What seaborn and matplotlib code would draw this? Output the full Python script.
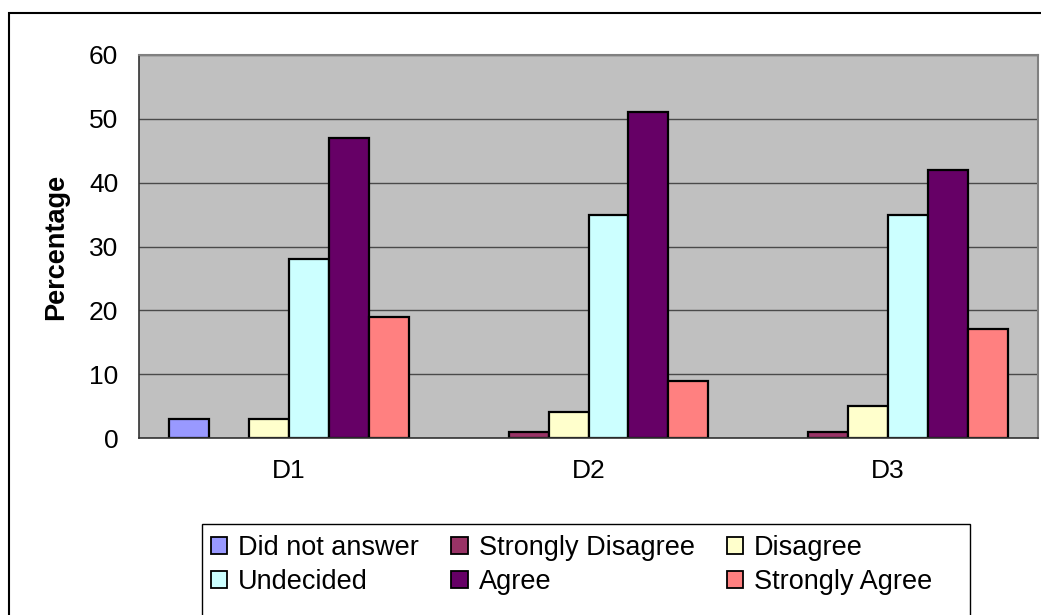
import pandas as pd
import numpy as np
import matplotlib
matplotlib.use("Agg")
import matplotlib.pyplot as plt
import seaborn as sns
from matplotlib.patches import Rectangle

# donnees
questions = ["D1", "D2", "D3"]
reponses = ["Did not answer", "Strongly Disagree", "Disagree",
            "Undecided", "Agree", "Strongly Agree"]
did_not_answer = [3, 0, 0]
strongly_disagree = [0, 1, 1]
disagree = [3, 4, 5]
undecided = [28, 35, 35]
agree = [47, 51, 42]
strongly_agree = [19, 9, 17]

couleurs = ["#9999FF", "#993366", "#FFFFCC", "#CCFFFF", "#660066", "#FF8080"]

# tableau long pour seaborn
series = [did_not_answer, strongly_disagree, disagree,
          undecided, agree, strongly_agree]
rows = []
for rep, vals in zip(reponses, series):
    for q, v in zip(questions, vals):
        rows.append({"question": q, "reponse": rep, "pct": v})
df = pd.DataFrame(rows)

sns.set_style("white")
plt.rcParams['font.family'] = ['Liberation Sans', 'DejaVu Sans']
plt.rcParams['text.color'] = 'black'
plt.rcParams['xtick.color'] = 'black'
plt.rcParams['ytick.color'] = 'black'
plt.rcParams['axes.labelcolor'] = 'black'

fig = plt.figure(figsize=(10.41, 6.15), dpi=100)
ax = fig.add_axes([139/1041, 1-438/615, 899/1041, 383/615])
ax.set_facecolor("#C0C0C0")

sns.barplot(data=df, x="question", y="pct", hue="reponse", hue_order=reponses,
            order=questions, palette=couleurs, edgecolor="black", linewidth=1.6,
            width=0.8, saturation=1, ax=ax, legend=True)

handles, labels = ax.get_legend_handles_labels()
ax.get_legend().remove()

# barres a zero : pas de trait (comme Excel)
for p in ax.patches:
    if p.get_height() == 0:
        p.set_linewidth(0)

ax.set_ylim(0, 60)
ax.set_xlim(-0.5, 2.5)
ax.set_yticks(np.arange(0, 61, 10))
ax.yaxis.grid(True, color="#4a4a4a", linewidth=1)
ax.set_axisbelow(True)

# ticks de categories entre les groupes, labels au centre
ax.set_xticks([0.5, 1.5])
ax.set_xticklabels([])
ax.set_xticks([0, 1, 2], minor=True)
ax.set_xticklabels(questions, minor=True)
ax.tick_params(axis="x", which="major", direction="out", length=9, width=1, color="#333333")
ax.tick_params(axis="x", which="minor", length=0, pad=15, labelsize=19)
ax.tick_params(axis="y", direction="out", length=9, width=1, color="#333333", labelsize=19, pad=6)

ax.set_xlabel("")
ax.set_ylabel("Percentage", fontsize=19.5, fontweight="bold", labelpad=14)

for side in ["top", "right"]:
    ax.spines[side].set_color("#808080")
    ax.spines[side].set_linewidth(1.5)
for side in ["left", "bottom"]:
    ax.spines[side].set_color("#333333")
    ax.spines[side].set_linewidth(1.2)

# legende en lignes (ordre Excel)
ordre = [0, 3, 1, 4, 2, 5]
leg = fig.legend([handles[i] for i in ordre], [labels[i] for i in ordre],
                 ncol=3, loc="upper left", bbox_to_anchor=(211/1041, 1-535/615),
                 fontsize=19.5, frameon=False,
                 handlelength=0.6, handleheight=0.6, handletextpad=0.4,
                 columnspacing=1.2, borderpad=0.0, labelspacing=0.3,
                 borderaxespad=0)
for h in leg.legend_handles:
    h.set_edgecolor("black")
    h.set_linewidth(1.3)

# cadre de la legende
fig.patches.append(Rectangle((202/1041, -0.1), (970-202)/1041, (615-524)/615 + 0.1,
                             transform=fig.transFigure, fill=False,
                             edgecolor="black", linewidth=1))

# cadre exterieur du graphique
fig.patches.append(Rectangle((9/1041, -0.1), 1.2, (615-13)/615 + 0.1,
                             transform=fig.transFigure, fill=False,
                             edgecolor="black", linewidth=1.5))

fig.savefig("out.png", dpi=100)
